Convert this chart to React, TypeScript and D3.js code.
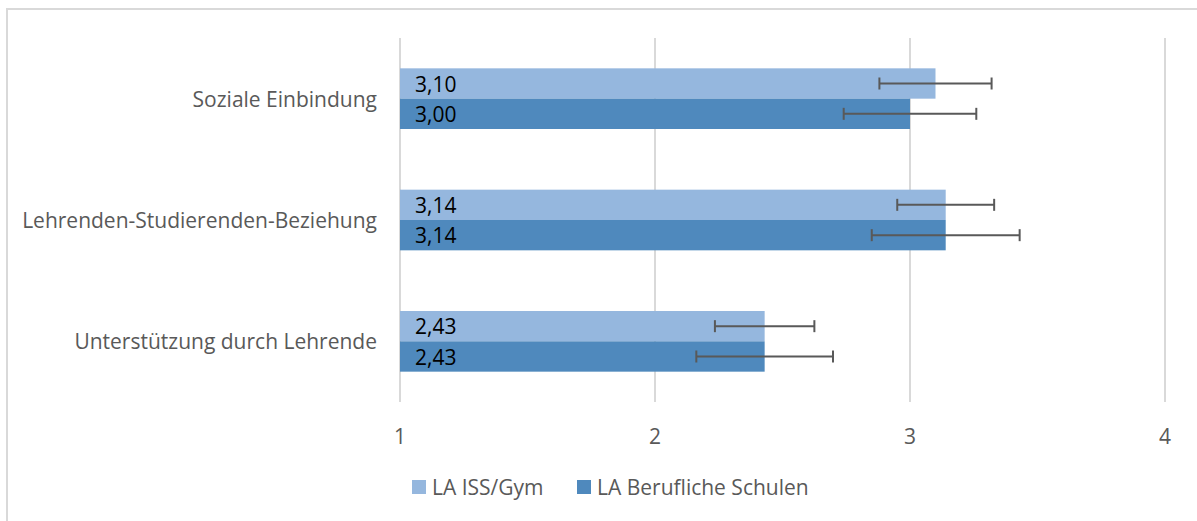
import React from "react";
import * as d3 from "d3";

const categories = ["Soziale Einbindung", "Lehrenden-Studierenden-Beziehung", "Unterstützung durch Lehrende"];
const seriesNames = ["LA ISS/Gym", "LA Berufliche Schulen"];
const valuesISS = [3.10, 3.14, 2.43];
const valuesBS = [3.00, 3.14, 2.43];
const errISS = [0.22, 0.19, 0.195];
const errBS = [0.26, 0.29, 0.268];
const xTicks = [1, 2, 3, 4];
const colors = ["#95B7DE", "#4F89BD"];

const W = 1197, H = 521;
const FONT = "'Open Sans', 'DejaVu Sans', sans-serif";
const FS = 21;

export default function App() {
  const x = d3.scaleLinear().domain([1, 4]).range([400, 1165]);
  const y = d3.scaleBand().domain(categories).range([38, 402]).paddingInner(0.5).paddingOuter(0.25);
  const inner = d3.scaleBand().domain(seriesNames).range([0, y.bandwidth()]);
  const series = [
    { name: seriesNames[0], vals: valuesISS, errs: errISS, color: colors[0] },
    { name: seriesNames[1], vals: valuesBS, errs: errBS, color: colors[1] },
  ];
  const fmt = (v: number) => v.toFixed(2).replace(".", ",");
  return (
    <svg width={W} height={H} style={{ position: "absolute", left: 0, top: 0, background: "#fff" }} fontFamily={FONT}>
      <rect x={7} y={9} width={W + 10} height={H + 10} fill="#fff" stroke="#D9D9D9" strokeWidth={2} />
      {xTicks.map((t) => (
        <g key={t}>
          <line x1={x(t)} x2={x(t)} y1={38} y2={402} stroke="#D9D9D9" strokeWidth={2} />
          <text x={x(t)} y={436} textAnchor="middle" dominantBaseline="central" fontSize={FS} fill="#595959">{t}</text>
        </g>
      ))}
      {categories.map((c, i) => (
        <g key={c}>
          <text x={377} y={(y(c) as number) + y.bandwidth() / 2} textAnchor="end" dominantBaseline="central" fontSize={FS} fill="#595959">{c}</text>
          {series.map((s) => {
            const y0 = (y(c) as number) + (inner(s.name) as number);
            const bh = inner.bandwidth();
            const v = s.vals[i];
            const e = s.errs[i];
            const cy = y0 + bh / 2;
            return (
              <g key={s.name}>
                <rect x={x(1)} y={y0} width={x(v) - x(1)} height={bh} fill={s.color} />
                <text x={415} y={cy} dominantBaseline="central" fontSize={FS} fill="#000">{fmt(v)}</text>
                <g stroke="#595959" strokeWidth={2}>
                  <line x1={x(v - e)} x2={x(v + e)} y1={cy} y2={cy} />
                  <line x1={x(v - e)} x2={x(v - e)} y1={cy - 6} y2={cy + 6} />
                  <line x1={x(v + e)} x2={x(v + e)} y1={cy - 6} y2={cy + 6} />
                </g>
              </g>
            );
          })}
        </g>
      ))}
      <g>
        <rect x={412} y={480} width={14} height={14} fill={colors[0]} />
        <text x={432} y={487} dominantBaseline="central" fontSize={FS} fill="#595959">{seriesNames[0]}</text>
        <rect x={577} y={480} width={14} height={14} fill={colors[1]} />
        <text x={597} y={487} dominantBaseline="central" fontSize={FS} fill="#595959">{seriesNames[1]}</text>
      </g>
    </svg>
  );
}
